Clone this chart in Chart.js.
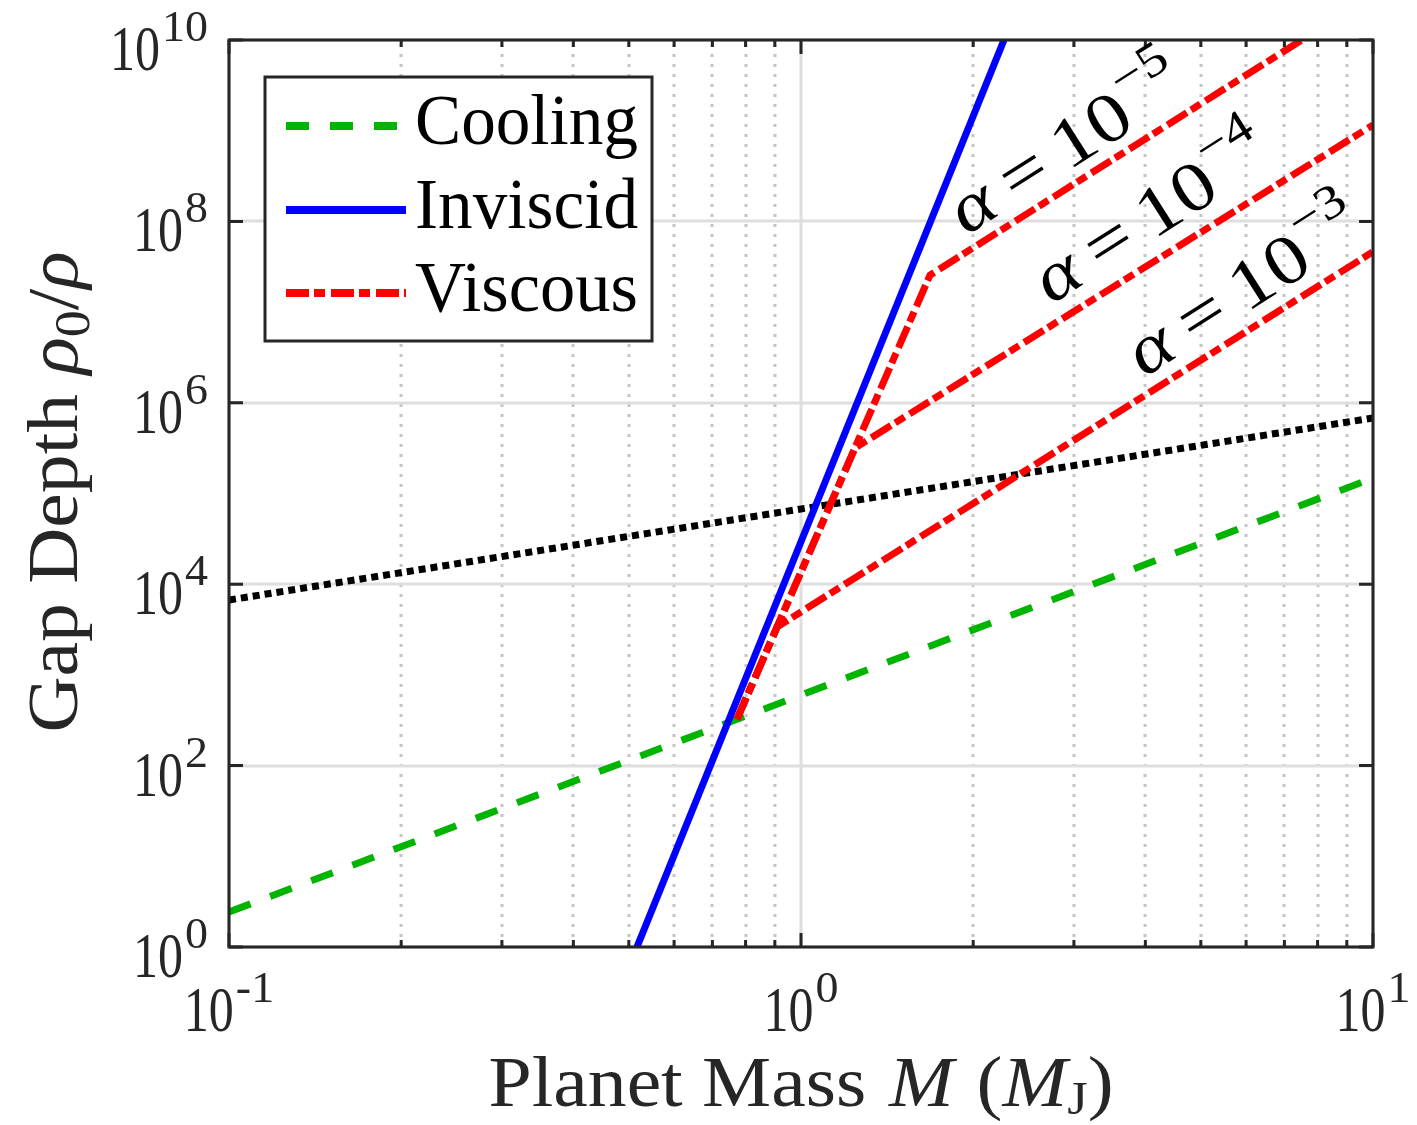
<!DOCTYPE html>
<html>
<head>
<meta charset="utf-8">
<script src="https://cdn.jsdelivr.net/npm/chart.js@4.4.1/dist/chart.umd.min.js"></script>
<style>html,body{margin:0;padding:0;background:#fff}</style>
</head>
<body>
<canvas id="gapChart" width="1417" height="1125"></canvas>
<script>
// values: planet mass (M_J) vs gap depth rho0/rho
const massInviscid = [0.5167, 2.264];
const depthInviscid = [1, 1e10];
const massCooling = [0.1, 10];
const depthCooling = [2.43, 1.48e5];
const massDotted = [0.1, 10];
const depthDotted = [6.7e3, 6.8e5];
const massVisc5 = [0.773, 1.681, 7.505];
const depthVisc5 = [326, 2.56e7, 1e10];
const massVisc4 = [0.773, 1.243, 10];
const depthVisc4 = [326, 3.18e5, 1.156e9];
const massVisc3 = [0.773, 0.908, 10];
const depthVisc3 = [326, 3.37e3, 4.63e7];

// ticks
const xMajor = [0.1, 1, 10];
const xMajorExp = ['-1', '0', '1'];
const xMinor = [0.2, 0.3, 0.4, 0.5, 0.6, 0.7, 0.8, 0.9, 2, 3, 4, 5, 6, 7, 8, 9];
const yMajor = [1, 1e2, 1e4, 1e6, 1e8, 1e10];
const yMajorExp = ['0', '2', '4', '6', '8', '10'];
const alphaExp = ['\u22125', '\u22124', '\u22123'];
const legendNames = ['Cooling', 'Inviscid', 'Viscous'];

const FONT = "'Liberation Serif', 'DejaVu Serif', serif";
const AXIS = '#262626';

function pts(xs, ys) {
    return xs.map((x, i) => ({ x: x, y: ys[i] }));
}

function fontOf(p) {
    return (p.it ? 'italic ' : '') + p.size + 'px ' + FONT;
}

// draws a row of text pieces (superscripts, italics...) stretched to a given width
function rich(ctx, parts, x, y, o) {
    ctx.save();
    ctx.translate(x, y);
    if (o.rot) ctx.rotate(o.rot);
    let total = 0;
    const ws = parts.map(p => {
        ctx.font = fontOf(p);
        const w = ctx.measureText(p.t).width + (p.pre || 0);
        total += w;
        return w;
    });
    const sx = o.width ? o.width / total : 1;
    ctx.scale(sx, 1);
    let cx = o.align === 'right' ? -total : o.align === 'center' ? -total / 2 : 0;
    ctx.fillStyle = o.color || AXIS;
    ctx.textAlign = 'left';
    ctx.textBaseline = 'alphabetic';
    parts.forEach((p, i) => {
        ctx.font = fontOf(p);
        ctx.save();
        ctx.translate(cx + (p.pre || 0), p.dy || 0);
        ctx.scale(1, p.sy || 1);
        ctx.fillText(p.t, 0, 0);
        ctx.restore();
        cx += ws[i];
    });
    ctx.restore();
}

function tickParts(exp) {
    return [
        { t: '10', size: 50, sy: 1.27 },
        { t: exp, size: 46, sy: 0.95, dy: -29, pre: 2 }
    ];
}

const decor = {
    id: 'decor',
    beforeDatasetsDraw(chart) {
        const { ctx, chartArea: a, scales: { x, y } } = chart;
        ctx.save();
        // minor vertical grid, dotted
        ctx.strokeStyle = '#c4c4c4';
        ctx.lineWidth = 3;
        ctx.setLineDash([3, 7]);
        xMinor.forEach(v => {
            const px = Math.round(x.getPixelForValue(v));
            ctx.beginPath();
            ctx.moveTo(px, a.bottom);
            ctx.lineTo(px, a.top);
            ctx.stroke();
        });
        // major grid, solid
        ctx.setLineDash([]);
        ctx.strokeStyle = '#dedede';
        ctx.lineWidth = 3;
        xMajor.forEach(v => {
            const px = Math.round(x.getPixelForValue(v));
            ctx.beginPath();
            ctx.moveTo(px, a.bottom);
            ctx.lineTo(px, a.top);
            ctx.stroke();
        });
        yMajor.forEach(v => {
            const py = Math.round(y.getPixelForValue(v));
            ctx.beginPath();
            ctx.moveTo(a.left, py);
            ctx.lineTo(a.right, py);
            ctx.stroke();
        });
        ctx.restore();
    },
    afterDatasetsDraw(chart) {
        const { ctx, chartArea: a, scales: { x, y } } = chart;
        ctx.save();
        // box and inward ticks
        ctx.strokeStyle = AXIS;
        ctx.lineWidth = 3;
        ctx.strokeRect(a.left, a.top, a.right - a.left, a.bottom - a.top);
        ctx.beginPath();
        xMajor.forEach(v => {
            const px = x.getPixelForValue(v);
            ctx.moveTo(px, a.bottom); ctx.lineTo(px, a.bottom - 14);
            ctx.moveTo(px, a.top); ctx.lineTo(px, a.top + 14);
        });
        xMinor.forEach(v => {
            const px = x.getPixelForValue(v);
            ctx.moveTo(px, a.bottom); ctx.lineTo(px, a.bottom - 7);
            ctx.moveTo(px, a.top); ctx.lineTo(px, a.top + 7);
        });
        yMajor.forEach(v => {
            const py = y.getPixelForValue(v);
            ctx.moveTo(a.left, py); ctx.lineTo(a.left + 14, py);
            ctx.moveTo(a.right, py); ctx.lineTo(a.right - 14, py);
        });
        ctx.stroke();

        // tick labels
        xMajor.forEach((v, i) => {
            rich(ctx, tickParts(xMajorExp[i]), x.getPixelForValue(v), a.bottom + 84, { align: 'center' });
        });
        yMajor.forEach((v, i) => {
            rich(ctx, tickParts(yMajorExp[i]), a.left - 21, y.getPixelForValue(v) + 30, { align: 'right' });
        });

        // axis titles
        rich(ctx, [
            { t: 'Planet Mass', size: 68, sy: 1.07 },
            { t: 'M', size: 68, it: true, sy: 1.07, pre: 20 },
            { t: '(', size: 68, sy: 1.07, pre: 20 },
            { t: 'M', size: 68, it: true, sy: 1.07 },
            { t: 'J', size: 46, dy: 8 },
            { t: ')', size: 68, sy: 1.07 }
        ], (a.left + a.right) / 2, 1106, { align: 'center', width: 625 });

        rich(ctx, [
            { t: 'Gap Depth', size: 72 },
            { t: '\u03c1', size: 72, it: true, pre: 18 },
            { t: '0', size: 50, dy: 12 },
            { t: '/', size: 72 },
            { t: '\u03c1', size: 72, it: true }
        ], 77, 492, { align: 'center', width: 481, rot: -Math.PI / 2 });

        // legend
        ctx.fillStyle = '#fff';
        ctx.fillRect(265, 77, 387, 264);
        ctx.strokeStyle = AXIS;
        ctx.lineWidth = 3;
        ctx.setLineDash([]);
        ctx.strokeRect(265, 77, 387, 264);
        const sets = chart.data.datasets;
        const legendSets = [sets[3], sets[0], sets[1]];
        const rowY = [126, 210, 293];
        legendSets.forEach((ds, i) => {
            ctx.strokeStyle = ds.borderColor;
            ctx.lineWidth = 8;
            ctx.lineCap = 'butt';
            ctx.setLineDash(ds.borderDash || []);
            ctx.beginPath();
            ctx.moveTo(286, rowY[i]);
            ctx.lineTo(406, rowY[i]);
            ctx.stroke();
            rich(ctx, [{ t: legendNames[i], size: 71 }], 415, rowY[i] + 18, { width: 223, color: '#000' });
        });
        ctx.setLineDash([]);

        // alpha labels along the viscous lines
        const anchors = [[1.943, 6.9e7], [2.736, 1.2e7], [3.978, 1.88e6]];
        anchors.forEach((p, i) => {
            rich(ctx, [
                { t: '\u03b1', size: 70, it: true },
                { t: '=', size: 70, pre: 14 },
                { t: '10', size: 70, pre: 14 },
                { t: alphaExp[i], size: 48, dy: -33, pre: 2 }
            ], x.getPixelForValue(p[0]), y.getPixelForValue(p[1]), { width: 265, rot: -32.5 * Math.PI / 180, color: '#000' });
        });
        ctx.restore();
    }
};

const common = { pointRadius: 0, tension: 0, fill: false, borderWidth: 7, borderCapStyle: 'butt' };

new Chart(document.getElementById('gapChart'), {
    type: 'line',
    data: {
        datasets: [
            Object.assign({ label: 'Inviscid', data: pts(massInviscid, depthInviscid), borderColor: '#0000ff', order: 1 }, common),
            Object.assign({ label: 'Viscous', data: pts(massVisc5, depthVisc5), borderColor: '#ff0000', borderDash: [23, 5, 11, 6], order: 2 }, common),
            Object.assign({ label: 'Viscous 1e-4', data: pts(massVisc4, depthVisc4), borderColor: '#ff0000', borderDash: [23, 5, 11, 6], order: 2 }, common),
            Object.assign({ label: 'Cooling', data: pts(massCooling, depthCooling), borderColor: '#00b400', borderDash: [23, 21], order: 3 }, common),
            Object.assign({ label: 'Viscous 1e-3', data: pts(massVisc3, depthVisc3), borderColor: '#ff0000', borderDash: [23, 5, 11, 6], order: 2 }, common),
            Object.assign({ label: 'dotted', data: pts(massDotted, depthDotted), borderColor: '#000000', borderDash: [7, 5], order: 4 }, common)
        ]
    },
    options: {
        responsive: false,
        devicePixelRatio: 1,
        animation: false,
        layout: { padding: { left: 229, right: 44, top: 40, bottom: 178 } },
        scales: {
            x: { type: 'logarithmic', min: 0.1, max: 10, display: false },
            y: { type: 'logarithmic', min: 1, max: 1e10, display: false }
        },
        plugins: {
            legend: { display: false },
            tooltip: { enabled: false }
        }
    },
    plugins: [decor]
});
</script>
</body>
</html>
